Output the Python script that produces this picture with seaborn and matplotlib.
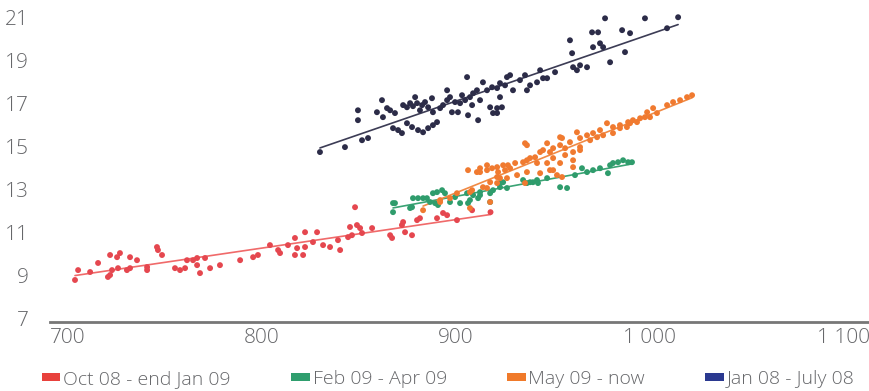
import pandas as pd
import seaborn as sns
import matplotlib.pyplot as plt
from matplotlib.patches import Patch

periods = ['Oct 08 - end Jan 09', 'Feb 09 - Apr 09', 'May 09 - now', 'Jan 08 - July 08']
x_ticks = [700, 800, 900, 1000, 1100]
x_tick_labels = ['700', '800', '900', '1 000', '1 100']
y_ticks = [7, 9, 11, 13, 15, 17, 19, 21]

# Oct 08 - end Jan 09
oct_x = [703.6, 705.2, 711.4, 715.5, 720.6, 721.7, 722.7, 721.7, 725.3, 726.8, 725.8, 730.4, 732.0, 732.0,
         735.6, 740.8, 740.8, 745.9, 746.4, 748.5, 755.2, 757.8, 760.4, 761.4, 764.5, 766.6, 766.6, 768.1,
         770.7, 773.3, 778.4, 788.8, 795.5, 798.0, 804.2, 808.4, 809.4, 813.5, 817.1, 821.3, 818.2, 822.3,
         817.1, 822.3, 826.4, 828.5, 831.6, 835.2, 839.3, 840.4, 844.5, 846.5, 845.5, 849.1, 850.7, 851.7,
         856.9, 848.1, 866.2, 867.2, 872.3, 872.9, 873.9, 880.1, 877.5, 890.4, 893.5, 900.7, 908.5, 881.6,
         895.6, 918.0]
oct_y = [8.80, 9.26, 9.17, 9.59, 8.94, 9.03, 9.26, 9.96, 9.86, 10.05, 9.35, 9.26, 9.35, 9.86,
         9.72, 9.40, 9.26, 10.33, 10.19, 9.96, 9.35, 9.26, 9.35, 9.72, 9.72, 9.82, 9.49, 9.12,
         9.82, 9.35, 9.49, 9.72, 9.86, 9.96, 10.42, 10.19, 10.05, 10.42, 9.96, 9.96, 10.28, 10.33,
         10.75, 11.02, 10.56, 11.02, 10.42, 10.33, 10.65, 10.19, 10.79, 10.88, 11.26, 11.35, 11.21, 10.98,
         11.21, 12.18, 10.88, 10.75, 11.35, 11.49, 11.02, 11.58, 10.88, 11.67, 11.91, 11.58, 12.04, 11.67,
         11.81, 11.95]

# Feb 09 - Apr 09
feb_x = [991.0, 989.0, 986.4, 983.8, 981.2, 979.7, 978.6, 970.9, 967.8, 965.2, 957.5, 953.9, 947.2, 942.0,
         938.4, 934.8, 936.8, 939.9, 942.5, 922.9, 919.3, 917.8, 917.8, 912.6, 911.6, 912.6, 909.0, 905.9,
         906.4, 902.3, 897.1, 893.0, 890.4, 888.3, 894.5, 890.9, 889.4, 886.8, 885.2, 883.2, 880.6, 878.0,
         877.5, 876.5, 868.7, 867.7, 867.7, 922.9, 924.5, 926.5, 907.4, 899.7, 961.6, 974.5]
feb_y = [14.27, 14.27, 14.36, 14.27, 14.23, 14.13, 13.76, 13.90, 13.81, 13.99, 13.07, 13.11, 13.53, 13.44,
         13.34, 13.44, 13.30, 13.34, 13.30, 13.11, 12.97, 12.83, 12.42, 12.74, 12.60, 12.88, 12.74, 12.83,
         12.37, 12.37, 12.42, 12.97, 12.88, 12.83, 12.83, 12.28, 12.37, 12.42, 12.60, 12.60, 12.60, 12.60,
         12.18, 12.14, 12.37, 11.95, 12.37, 13.30, 13.34, 13.07, 12.51, 12.65, 13.67, 13.99]

# May 09 - now
may_x = [1022.0, 1019.4, 1015.8, 1012.2, 1009.1, 1001.9, 998.8, 997.7, 1003.9, 1000.3, 995.2, 993.6, 991.5,
         989.0, 990.0, 984.8, 988.4, 984.8, 981.2, 978.1, 981.2, 974.5, 976.1, 970.9, 973.0, 967.8, 969.4,
         962.6, 964.2, 964.2, 959.0, 954.9, 953.9, 953.9, 956.5, 950.3, 947.2, 948.7, 943.6, 945.1, 941.0,
         938.4, 936.8, 934.8, 935.8, 936.8, 942.0, 947.2, 950.3, 956.5, 960.6, 964.2, 960.6, 960.6, 953.9,
         930.7, 928.1, 925.5, 921.9, 918.8, 916.2, 912.6, 911.0, 906.4, 921.4, 926.5, 931.7, 936.8, 943.6,
         950.3, 954.9, 952.3, 917.8, 914.1, 908.5, 900.7, 897.1, 892.0, 907.4, 927.0, 924.5, 921.4, 916.2,
         912.6, 948.7, 922.9, 935.8, 921.4, 916.2, 907.4, 883.2, 917.8, 892.0]
may_y = [17.38, 17.29, 17.15, 17.06, 16.92, 16.78, 16.59, 16.36, 16.55, 16.36, 16.31, 16.13, 16.22,
         16.13, 16.08, 15.99, 15.90, 15.85, 15.90, 16.08, 15.62, 15.76, 15.52, 15.62, 15.43, 15.52, 15.29,
         15.66, 15.39, 14.97, 15.20, 15.39, 15.43, 15.06, 14.92, 14.92, 15.15, 14.74, 14.74, 14.83, 14.50,
         14.46, 14.36, 14.27, 15.15, 15.06, 14.23, 14.23, 14.46, 14.60, 14.74, 14.83, 14.36, 14.04, 14.23,
         14.23, 13.99, 13.90, 13.81, 13.99, 13.90, 13.99, 13.81, 13.90, 13.58, 13.53, 13.67, 13.81, 13.76,
         13.90, 13.58, 13.67, 13.34, 13.11, 12.97, 12.83, 12.60, 12.51, 12.14, 14.13, 14.13, 14.04, 14.13,
         13.81, 13.90, 13.53, 13.30, 13.30, 13.07, 12.88, 12.04, 12.42, 12.42]

# Jan 08 - July 08
jan_x = [830.0, 842.9, 851.7, 854.8, 849.6, 849.6, 859.4, 862.0, 862.5, 864.6,
         866.2, 867.7, 870.3, 872.3, 868.7, 872.9, 874.9, 876.5, 878.0, 880.1,
         882.7, 884.2, 885.8, 879.1, 874.9, 877.5, 880.6, 883.2, 885.8, 888.3,
         890.4, 887.8, 888.3, 892.0, 893.5, 895.6, 897.1, 895.6, 898.1, 901.2,
         899.7, 902.3, 905.9, 904.9, 907.4, 909.0, 911.0, 906.4, 911.6, 908.5,
         912.6, 914.1, 916.2, 918.8, 921.4, 922.9, 917.8, 921.4, 923.9, 919.3,
         921.4, 922.9, 926.5, 928.1, 929.6, 933.2, 935.8, 936.8, 942.0, 945.1,
         943.6, 947.2, 959.0, 960.1, 960.6, 962.6, 964.2, 967.8, 970.4, 973.5,
         970.9, 974.5, 976.1, 977.1, 979.7, 985.9, 990.0, 987.4, 997.7, 1009.1,
         1014.8, 881.6, 903.3, 938.4, 925.5, 951.3]
jan_y = [14.74, 14.97, 15.29, 15.39, 16.68, 16.22, 16.59, 17.15, 16.36, 16.78,
         16.68, 15.85, 15.76, 15.62, 16.55, 16.92, 16.82, 17.01, 16.87, 17.01,
         16.92, 17.06, 16.82, 17.29, 16.08, 15.90, 15.76, 15.66, 15.85, 15.99,
         16.13, 17.24, 16.59, 16.78, 16.92, 17.15, 17.29, 17.61, 16.59, 16.59,
         17.06, 17.01, 18.22, 17.15, 17.29, 17.47, 17.61, 16.45, 16.22, 16.92,
         17.15, 17.98, 17.61, 17.75, 17.71, 17.94, 16.82, 16.78, 16.82, 16.55,
         16.55, 17.29, 18.22, 18.31, 17.61, 18.08, 18.31, 17.61, 17.98, 18.17,
         18.54, 18.17, 19.93, 19.33, 18.68, 18.54, 18.77, 18.68, 20.30, 20.30,
         19.61, 19.79, 19.61, 20.95, 18.91, 20.40, 20.26, 19.38, 20.95, 20.49,
         21.0, 16.68, 17.38, 17.84, 17.84, 18.45]

dot_colors = {periods[0]: '#e5474f', periods[1]: '#2f9c6c', periods[2]: '#f07a30', periods[3]: '#2c2c48'}
line_colors = {periods[0]: '#f06a6a', periods[1]: '#3aa374', periods[2]: '#f08a45', periods[3]: '#3c3c55'}
legend_colors = ['#e8413c', '#2f9e6e', '#f07a2a', '#2b3990']

frames = []
for name, xs, ys in zip(periods, [oct_x, feb_x, may_x, jan_x], [oct_y, feb_y, may_y, jan_y]):
    frames.append(pd.DataFrame({'x': xs, 'y': ys, 'period': name}))
df = pd.concat(frames, ignore_index=True)

sns.set_style('white')
plt.rcParams['font.family'] = ['Open Sans', 'DejaVu Sans']
grey = '#66676a'

fig = plt.figure(figsize=(8.69, 3.91), dpi=100)
ax = fig.add_axes([50 / 869, 1 - 322 / 391, 1 - 50 / 869, 322 / 391])

sns.scatterplot(data=df, x='x', y='y', hue='period', palette=dot_colors, s=18,
                linewidth=0, legend=False, ax=ax, zorder=3)
for name in periods:
    sub = df[df['period'] == name]
    sns.regplot(data=sub, x='x', y='y', scatter=False, ci=None, truncate=True, ax=ax,
                line_kws={'color': line_colors[name], 'lw': 1.2, 'zorder': 2})

ax.set_xlim(690.7, 1113.3)
ax.set_ylim(6.85, 21.8)
ax.set_xticks(x_ticks)
ax.set_xticklabels(x_tick_labels)
ax.set_yticks(y_ticks)
ax.set_xlabel('')
ax.set_ylabel('')
for lab in ax.get_xticklabels() + ax.get_yticklabels():
    lab.set_fontweight('light')
    lab.set_fontsize(15)
    lab.set_color(grey)
ax.tick_params(axis='both', length=0)
ax.tick_params(axis='x', pad=4)
ax.tick_params(axis='y', pad=15)

for side in ['top', 'right', 'left']:
    ax.spines[side].set_visible(False)
ax.spines['bottom'].set_color('#777777')
ax.spines['bottom'].set_linewidth(2)

handles = [Patch(facecolor=c, edgecolor='none') for c in legend_colors]
fig.legend(handles, periods, loc='lower left', bbox_to_anchor=(42 / 869, 3 / 391), ncol=4,
           frameon=False, handlelength=0.95, handleheight=0.32, handletextpad=0.15,
           columnspacing=3.1, borderaxespad=0, borderpad=0,
           prop={'family': ['Open Sans', 'DejaVu Sans'], 'weight': 'light', 'size': 14},
           labelcolor=grey)

fig.savefig('out.png', dpi=100)
